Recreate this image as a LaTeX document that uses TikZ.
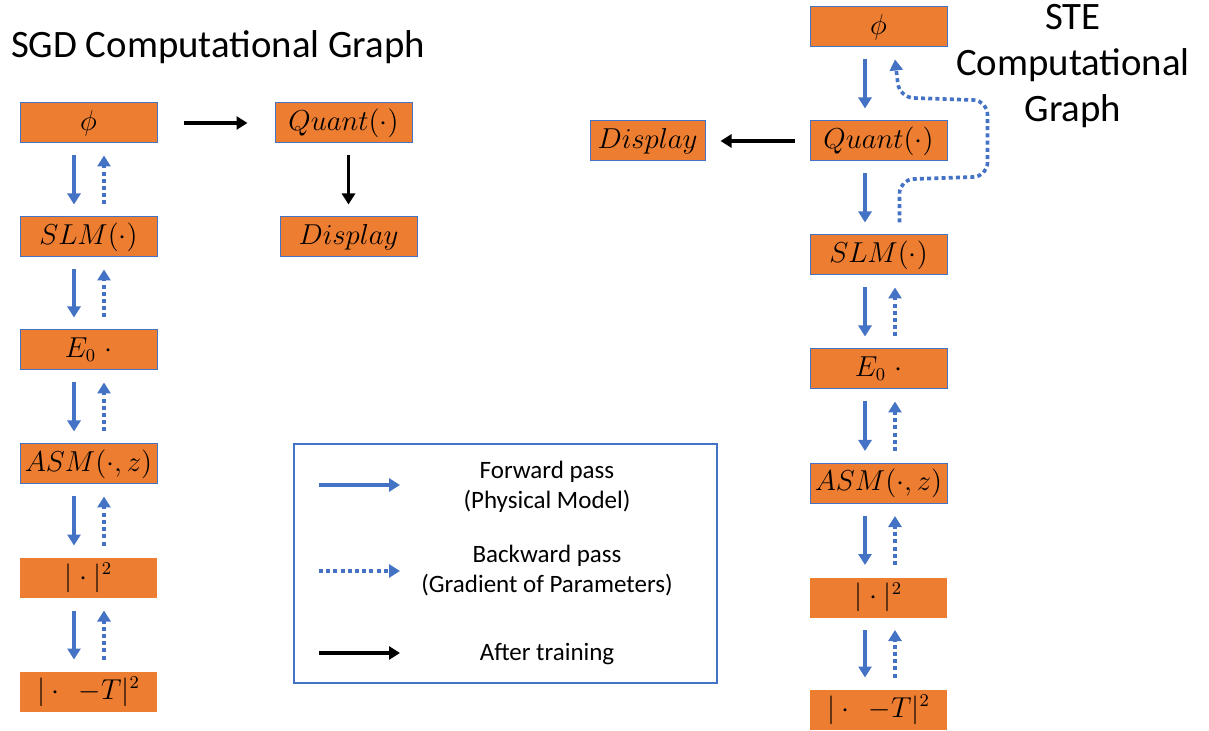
\documentclass[tikz,border=0pt]{standalone}
\usepackage{fontspec}
\setmainfont{Carlito}
\usepackage{amsmath}
\usetikzlibrary{arrows.meta,positioning,calc}
\definecolor{boxOrange}{RGB}{237,125,49}
\definecolor{passBlue}{RGB}{68,114,196}
\tikzset{
  stage/.style={draw=passBlue, line width=0.5pt, fill=boxOrange, inner sep=0pt, minimum width=68.5pt, minimum height=20pt, font=\fontsize{13.4}{15}\selectfont},
  plain/.style={stage, draw=none},
  fwd/.style={-{Triangle[length=5.5pt,width=6.5pt]}, line width=1.7pt, passBlue},
  bwd/.style={-{Triangle[length=5.5pt,width=6.5pt]}, line width=1.8pt, passBlue, dash pattern=on 2pt off 1.6pt},
  after/.style={-{Triangle[length=5.5pt,width=6.5pt]}, line width=1.6pt, black},
  title/.style={align=center, font=\fontsize{19.4}{23}\selectfont},
  note/.style={align=center, font=\fontsize{12.5}{15}\selectfont},
  legendbox/.style={draw=passBlue, line width=0.6pt, inner sep=0pt, minimum width=211.5pt, minimum height=119.5pt}
}

\begin{document}
\begin{tikzpicture}[x=0.5pt,y=-0.5pt]
  \useasboundingbox (0,0) rectangle (1209,731);

  % SGD graph
  \node[title, anchor=west] (sgdtitle) at (4,47) {SGD Computational Graph};
  \node[stage] (phiL) at (88.5,123) {$\phi$};
  \node[stage] (slmL) at (88.5,237) {$SLM(\cdot)$};
  \node[stage] (eL) at (88.5,350) {$E_0\;\cdot$};
  \node[stage] (asmL) at (88.5,464) {$ASM(\cdot,z)$};
  \node[plain] (absL) at (88.5,578) {$|\cdot|^2$};
  \node[plain] (lossL) at (88.5,692) {$|\cdot\;\,-T|^2$};
  \node[stage] (quantL) at (343.5,123) {$Quant(\cdot)$};
  \node[stage] (dispL) at (348.5,237) {$Display$};

  \draw[fwd] ([xshift=-7.25pt,yshift=-6pt]phiL.south) -- ([xshift=-7.25pt,yshift=6pt]slmL.north);
  \draw[fwd] ([xshift=-7.25pt,yshift=-6pt]slmL.south) -- ([xshift=-7.25pt,yshift=6pt]eL.north);
  \draw[fwd] ([xshift=-7.25pt,yshift=-6pt]eL.south) -- ([xshift=-7.25pt,yshift=6pt]asmL.north);
  \draw[fwd] ([xshift=-7.25pt,yshift=-6pt]asmL.south) -- ([xshift=-7.25pt,yshift=6pt]absL.north);
  \draw[fwd] ([xshift=-7.25pt,yshift=-6pt]absL.south) -- ([xshift=-7.25pt,yshift=6pt]lossL.north);
  \draw[bwd] ([xshift=7.75pt,yshift=6pt]slmL.north) -- ([xshift=7.75pt,yshift=-6pt]phiL.south);
  \draw[bwd] ([xshift=7.75pt,yshift=6pt]eL.north) -- ([xshift=7.75pt,yshift=-6pt]slmL.south);
  \draw[bwd] ([xshift=7.75pt,yshift=6pt]asmL.north) -- ([xshift=7.75pt,yshift=-6pt]eL.south);
  \draw[bwd] ([xshift=7.75pt,yshift=6pt]absL.north) -- ([xshift=7.75pt,yshift=-6pt]asmL.south);
  \draw[bwd] ([xshift=7.75pt,yshift=6pt]lossL.north) -- ([xshift=7.75pt,yshift=-6pt]absL.south);
  \draw[after] ([xshift=13pt]phiL.east) -- ([xshift=-13.5pt]quantL.west);
  \draw[after] ([xshift=2.5pt,yshift=-6pt]quantL.south) -- ([yshift=6pt]dispL.north);

  % STE graph
  \node[title] (stetitle) at (1073,66) {STE\\Computational\\Graph};
  \node[stage] (phiR) at (878.5,27) {$\phi$};
  \node[stage] (quantR) at (878.5,141) {$Quant(\cdot)$};
  \node[stage] (slmR) at (878.5,255) {$SLM(\cdot)$};
  \node[stage] (eR) at (878.5,369) {$E_0\;\cdot$};
  \node[stage] (asmR) at (878.5,483.5) {$ASM(\cdot,z)$};
  \node[plain] (absR) at (878.5,597.5) {$|\cdot|^2$};
  \node[plain] (lossR) at (878.5,710) {$|\cdot\;\,-T|^2$};
  \node[stage, minimum width=57.5pt] (dispR) at (647.5,141) {$Display$};

  \draw[fwd] ([xshift=-6.75pt,yshift=-6pt]phiR.south) -- ([xshift=-6.75pt,yshift=6pt]quantR.north);
  \draw[fwd] ([xshift=-6.75pt,yshift=-6pt]quantR.south) -- ([xshift=-6.75pt,yshift=6pt]slmR.north);
  \draw[fwd] ([xshift=-6.75pt,yshift=-6pt]slmR.south) -- ([xshift=-6.75pt,yshift=6pt]eR.north);
  \draw[fwd] ([xshift=-6.75pt,yshift=-6pt]eR.south) -- ([xshift=-6.75pt,yshift=6pt]asmR.north);
  \draw[fwd] ([xshift=-6.75pt,yshift=-6pt]asmR.south) -- ([xshift=-6.75pt,yshift=6pt]absR.north);
  \draw[fwd] ([xshift=-6.75pt,yshift=-6pt]absR.south) -- ([xshift=-6.75pt,yshift=6pt]lossR.north);
  \draw[bwd, rounded corners=7pt] ([xshift=10.5pt,yshift=6pt]slmR.north) -- ++(0,-43) -- ++(88,-3) -- ++(0,-76) -- ++(-88,-3) -- ([xshift=8.25pt,yshift=-6pt]phiR.south);
  \draw[bwd] ([xshift=8.25pt,yshift=6pt]eR.north) -- ([xshift=8.25pt,yshift=-6pt]slmR.south);
  \draw[bwd] ([xshift=8.25pt,yshift=6pt]asmR.north) -- ([xshift=8.25pt,yshift=-6pt]eR.south);
  \draw[bwd] ([xshift=8.25pt,yshift=6pt]absR.north) -- ([xshift=8.25pt,yshift=-6pt]asmR.south);
  \draw[bwd] ([xshift=8.25pt,yshift=6pt]lossR.north) -- ([xshift=8.25pt,yshift=-6pt]absR.south);
  \draw[after] ([xshift=-7.5pt]quantR.west) -- ([xshift=7.5pt]dispR.east);

  % legend
  \node[legendbox] (legend) at (505.5,563.5) {};
  \coordinate (fwdA) at (319,485);
  \coordinate (fwdB) at (400,485);
  \coordinate (bwdA) at (319,571);
  \coordinate (bwdB) at (400,571);
  \coordinate (aftA) at (319,653);
  \coordinate (aftB) at (400,653);
  \draw[fwd] (fwdA) -- (fwdB);
  \draw[bwd] (bwdA) -- (bwdB);
  \draw[after] (aftA) -- (aftB);
  \node[note] (fwdtext) at (547,487) {Forward pass\\(Physical Model)};
  \node[note] (bwdtext) at (547,571) {Backward pass\\(Gradient of Parameters)};
  \node[note] (afttext) at (547,654) {After training};
\end{tikzpicture}
\end{document}
